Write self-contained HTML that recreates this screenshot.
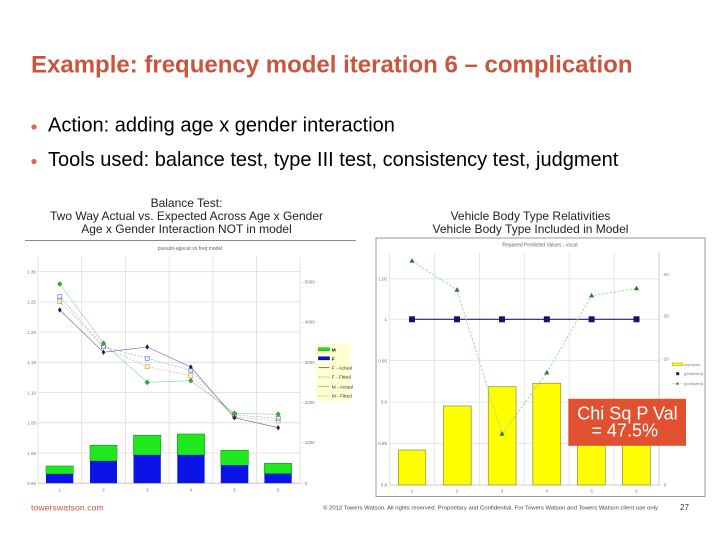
<!DOCTYPE html>
<html>
<head>
<meta charset="utf-8">
<style>
html,body{margin:0;padding:0;background:#fff;}
svg{display:block;}
text{font-family:"Liberation Sans",Arial,sans-serif;}
</style>
</head>
<body>
<svg width="720" height="540" viewBox="0 0 720 540" xmlns="http://www.w3.org/2000/svg">
<rect x="0" y="0" width="720" height="540" fill="#fff"/>

<!-- Title -->
<text x="31" y="72.5" font-size="24" font-weight="bold" fill="#C8553D">Example: frequency model iteration 6 – complication</text>

<!-- Bullets -->
<circle cx="34" cy="127" r="2.6" fill="#D9694A"/>
<text x="48" y="131.7" font-size="20" fill="#000">Action: adding age x gender interaction</text>
<circle cx="34" cy="161.5" r="2.6" fill="#D9694A"/>
<text x="48" y="166" font-size="20" fill="#000">Tools used: balance test, type III test, consistency test, judgment</text>

<!-- Subtitles -->
<g font-size="12" fill="#222" text-anchor="middle">
<text x="186.5" y="207">Balance Test:</text>
<text x="186.5" y="220">Two Way Actual vs. Expected Across Age x Gender</text>
<text x="186.5" y="233">Age x Gender Interaction NOT in model</text>
<text x="530.5" y="220">Vehicle Body Type Relativities</text>
<text x="530.5" y="233">Vehicle Body Type Included in Model</text>
</g>

<!-- ============ LEFT CHART ============ -->
<line x1="25" y1="240.5" x2="356" y2="240.5" stroke="#8a8a8a" stroke-width="1"/>
<text x="190" y="250" font-size="5" fill="#666" text-anchor="middle">pseudo-agecat  vs freq model</text>

<g stroke="#dcdcdc" stroke-width="0.8">
<line x1="38" y1="271.7" x2="300" y2="271.7"/>
<line x1="38" y1="301.9" x2="300" y2="301.9"/>
<line x1="38" y1="332.1" x2="300" y2="332.1"/>
<line x1="38" y1="362.3" x2="300" y2="362.3"/>
<line x1="38" y1="392.6" x2="300" y2="392.6"/>
<line x1="38" y1="422.8" x2="300" y2="422.8"/>
<line x1="38" y1="453.0" x2="300" y2="453.0"/>
<line x1="38" y1="257" x2="38" y2="483"/>
<line x1="81.7" y1="257" x2="81.7" y2="483"/>
<line x1="125.4" y1="257" x2="125.4" y2="483"/>
<line x1="169.1" y1="257" x2="169.1" y2="483"/>
<line x1="212.8" y1="257" x2="212.8" y2="483"/>
<line x1="256.5" y1="257" x2="256.5" y2="483"/>
<line x1="300" y1="257" x2="300" y2="483"/>
</g>
<line x1="38" y1="483.2" x2="300" y2="483.2" stroke="#bbb" stroke-width="0.8"/>

<g font-size="4.5" fill="#777" text-anchor="end">
<text x="36" y="273.5">1.30</text>
<text x="36" y="303.7">1.25</text>
<text x="36" y="333.9">1.20</text>
<text x="36" y="364.1">1.15</text>
<text x="36" y="394.4">1.10</text>
<text x="36" y="424.6">1.05</text>
<text x="36" y="454.8">1.00</text>
<text x="36" y="485">0.95</text>
</g>
<g font-size="4.5" fill="#777">
<text x="302" y="283.5">- 5000</text>
<text x="302" y="323.5">- 4000</text>
<text x="302" y="364">- 3000</text>
<text x="302" y="404">- 2000</text>
<text x="302" y="444">- 1000</text>
<text x="302" y="485">- 0</text>
</g>
<g font-size="4.5" fill="#777" text-anchor="middle">
<text x="59.8" y="491.5">1</text>
<text x="103.5" y="491.5">2</text>
<text x="147.2" y="491.5">3</text>
<text x="190.8" y="491.5">4</text>
<text x="234.5" y="491.5">5</text>
<text x="278.2" y="491.5">6</text>
</g>

<!-- stacked bars -->
<g>
<rect x="46" y="466" width="27.3" height="8" fill="#1FE81F" stroke="#119911" stroke-width="0.6"/>
<rect x="46" y="474" width="27.3" height="9.2" fill="#0A14E6"/>
<rect x="90" y="445.3" width="27" height="15.7" fill="#1FE81F" stroke="#119911" stroke-width="0.6"/>
<rect x="90" y="461" width="27" height="22.2" fill="#0A14E6"/>
<rect x="133.5" y="435.3" width="27.3" height="19.7" fill="#1FE81F" stroke="#119911" stroke-width="0.6"/>
<rect x="133.5" y="455" width="27.3" height="28.2" fill="#0A14E6"/>
<rect x="177.3" y="434" width="27.3" height="21" fill="#1FE81F" stroke="#119911" stroke-width="0.6"/>
<rect x="177.3" y="455" width="27.3" height="28.2" fill="#0A14E6"/>
<rect x="220.8" y="450.3" width="27.5" height="15" fill="#1FE81F" stroke="#119911" stroke-width="0.6"/>
<rect x="220.8" y="465.3" width="27.5" height="17.9" fill="#0A14E6"/>
<rect x="264.4" y="463.3" width="27.3" height="10.4" fill="#1FE81F" stroke="#119911" stroke-width="0.6"/>
<rect x="264.4" y="473.7" width="27.3" height="9.5" fill="#0A14E6"/>
</g>

<!-- lines -->
<polyline points="59.8,301.7 103.5,346.7 147.2,366.7 190.8,375.7 234.5,416.7 278.2,421" fill="none" stroke="#D6BC72" stroke-width="0.6" stroke-dasharray="2,1.5"/>
<polyline points="59.8,296.7 103.5,346.7 147.2,358.3 190.8,370.3 234.5,415 278.2,418.3" fill="none" stroke="#8FB0D0" stroke-width="0.6" stroke-dasharray="2,1.5"/>
<polyline points="59.8,284 103.5,343.3 147.2,382.3 190.8,380.7 234.5,413.3 278.2,414.3" fill="none" stroke="#86D886" stroke-width="0.6"/>
<polyline points="59.8,310 103.5,352.3 147.2,347 190.8,367 234.5,417.7 278.2,427.7" fill="none" stroke="#6262A8" stroke-width="0.6"/>

<!-- markers -->
<g fill="none" stroke="#C9A64A" stroke-width="0.7">
<rect x="57.8" y="299.7" width="4" height="4"/><rect x="101.5" y="344.7" width="4" height="4"/><rect x="145.2" y="364.7" width="4" height="4"/><rect x="188.8" y="373.7" width="4" height="4"/><rect x="232.5" y="414.7" width="4" height="4"/><rect x="276.2" y="419" width="4" height="4"/>
</g>
<g fill="none" stroke="#5B86B4" stroke-width="0.7">
<rect x="57.8" y="294.7" width="4" height="4"/><rect x="101.5" y="344.7" width="4" height="4"/><rect x="145.2" y="356.3" width="4" height="4"/><rect x="188.8" y="368.3" width="4" height="4"/><rect x="232.5" y="413" width="4" height="4"/><rect x="276.2" y="416.3" width="4" height="4"/>
</g>
<g fill="#3FAE3F" stroke="#1E5E1E" stroke-width="0.5">
<path d="M59.8,281.5 l2.2,2.5 l-2.2,2.5 l-2.2,-2.5z"/>
<path d="M103.5,340.8 l2.2,2.5 l-2.2,2.5 l-2.2,-2.5z"/>
<path d="M147.2,379.8 l2.2,2.5 l-2.2,2.5 l-2.2,-2.5z"/>
<path d="M190.8,378.2 l2.2,2.5 l-2.2,2.5 l-2.2,-2.5z"/>
<path d="M234.5,410.8 l2.2,2.5 l-2.2,2.5 l-2.2,-2.5z"/>
<path d="M278.2,411.8 l2.2,2.5 l-2.2,2.5 l-2.2,-2.5z"/>
</g>
<g fill="#1A1A5E">
<path d="M59.8,307.3 l1.8,2.7 l-1.8,2.7 l-1.8,-2.7z"/>
<path d="M103.5,349.6 l1.8,2.7 l-1.8,2.7 l-1.8,-2.7z"/>
<path d="M147.2,344.3 l1.8,2.7 l-1.8,2.7 l-1.8,-2.7z"/>
<path d="M190.8,364.3 l1.8,2.7 l-1.8,2.7 l-1.8,-2.7z"/>
<path d="M234.5,415 l1.8,2.7 l-1.8,2.7 l-1.8,-2.7z"/>
<path d="M278.2,425 l1.8,2.7 l-1.8,2.7 l-1.8,-2.7z"/>
</g>

<!-- legend -->
<rect x="316.5" y="344" width="34" height="57" fill="#FFFFD2"/>
<rect x="318.5" y="347.8" width="11" height="3" fill="#1FE81F" stroke="#119911" stroke-width="0.6"/>
<rect x="318.5" y="356.8" width="11" height="3" fill="#0A14E6" stroke="#00008A" stroke-width="0.6"/>
<line x1="318.5" y1="367.7" x2="329.5" y2="367.7" stroke="#3A3A90" stroke-width="0.7"/>
<line x1="318.5" y1="377" x2="329.5" y2="377" stroke="#6F97C0" stroke-width="0.7" stroke-dasharray="1.5,1"/>
<line x1="318.5" y1="386.7" x2="329.5" y2="386.7" stroke="#5DC85D" stroke-width="0.7"/>
<line x1="318.5" y1="396" x2="329.5" y2="396" stroke="#C9A64A" stroke-width="0.7" stroke-dasharray="1.5,1"/>
<g font-size="4.8" fill="#333">
<text x="331.7" y="351.3" font-weight="bold" fill="#111">M</text>
<text x="331.7" y="360.3" font-weight="bold" fill="#111">F</text>
<text x="331.7" y="369.4">F - Actual</text>
<text x="331.7" y="378.7">F - Fitted</text>
<text x="331.7" y="388.4">M - Actual</text>
<text x="331.7" y="397.7">M - Fitted</text>
</g>

<!-- ============ RIGHT CHART ============ -->
<rect x="376" y="238" width="329" height="258.5" fill="#fff" stroke="#9a9a9a" stroke-width="1"/>
<text x="540" y="246.5" font-size="5" fill="#666" text-anchor="middle">Repaired Predicted Values - vscat</text>

<g stroke="#e0e0e0" stroke-width="0.8">
<line x1="389.6" y1="278.8" x2="659" y2="278.8"/>
<line x1="389.6" y1="319.3" x2="659" y2="319.3"/>
<line x1="389.6" y1="360.5" x2="659" y2="360.5"/>
<line x1="389.6" y1="402" x2="659" y2="402"/>
<line x1="389.6" y1="443.3" x2="659" y2="443.3"/>
<line x1="389.6" y1="253" x2="389.6" y2="485"/>
<line x1="434.5" y1="253" x2="434.5" y2="485"/>
<line x1="479.4" y1="253" x2="479.4" y2="485"/>
<line x1="524.3" y1="253" x2="524.3" y2="485"/>
<line x1="569.2" y1="253" x2="569.2" y2="485"/>
<line x1="614.1" y1="253" x2="614.1" y2="485"/>
</g>
<line x1="659" y1="253" x2="659" y2="485" stroke="#bdbdbd" stroke-width="0.8"/>
<line x1="389.6" y1="485" x2="659" y2="485" stroke="#bdbdbd" stroke-width="0.8"/>

<g font-size="4.5" fill="#777" text-anchor="end">
<text x="387" y="280.5">1.05</text>
<text x="387" y="321">1</text>
<text x="387" y="362.3">0.95</text>
<text x="387" y="403.7">0.9</text>
<text x="387" y="445">0.85</text>
<text x="387" y="486.7">0.8</text>
</g>
<g font-size="4.5" fill="#777">
<text x="661" y="276">- 40</text>
<text x="661" y="317.7">- 30</text>
<text x="661" y="360.3">- 20</text>
<text x="661" y="401.7">- 10</text>
<text x="661" y="443.4">- 5</text>
<text x="661" y="486.7">- 0</text>
</g>
<g font-size="4.5" fill="#777" text-anchor="middle">
<text x="412" y="492.5">1</text>
<text x="457" y="492.5">2</text>
<text x="502" y="492.5">3</text>
<text x="546.8" y="492.5">4</text>
<text x="591.6" y="492.5">5</text>
<text x="636.5" y="492.5">6</text>
</g>

<!-- yellow bars -->
<g fill="#FFFF00" stroke="#9C9A3A" stroke-width="0.8">
<rect x="398.4" y="450" width="27.3" height="35"/>
<rect x="443.4" y="406" width="27.8" height="79"/>
<rect x="488.3" y="386.7" width="27.7" height="98.3"/>
<rect x="532.8" y="383.3" width="27.9" height="101.7"/>
<rect x="577.4" y="420" width="27.9" height="65"/>
<rect x="622.4" y="425" width="27.9" height="60"/>
</g>

<!-- navy line -->
<line x1="412" y1="319.3" x2="636.5" y2="319.3" stroke="#23237A" stroke-width="1.2"/>
<g fill="#14146A">
<rect x="409" y="316.3" width="6" height="6"/>
<rect x="454" y="316.3" width="6" height="6"/>
<rect x="499" y="316.3" width="6" height="6"/>
<rect x="543.8" y="316.3" width="6" height="6"/>
<rect x="588.6" y="316.3" width="6" height="6"/>
<rect x="633.5" y="316.3" width="6" height="6"/>
</g>

<!-- green dashed line -->
<polyline points="412,261 457,290 502,434 546.8,372.7 591.6,295.7 636.5,288.5" fill="none" stroke="#8FE08F" stroke-width="0.9" stroke-dasharray="2.5,1.5"/>
<g fill="#2E7A2E" stroke="#1B4F1B" stroke-width="0.3">
<path d="M412,258.5 l2.3,4 l-4.6,0z"/>
<path d="M457,287.5 l2.3,4 l-4.6,0z"/>
<path d="M502,431.5 l2.3,4 l-4.6,0z"/>
<path d="M546.8,370.2 l2.3,4 l-4.6,0z"/>
<path d="M591.6,293.2 l2.3,4 l-4.6,0z"/>
<path d="M636.5,286 l2.3,4 l-4.6,0z"/>
</g>

<!-- right legend -->
<rect x="672.3" y="363" width="10.4" height="2.8" fill="#FFFF00" stroke="#9C9A3A" stroke-width="0.5"/>
<rect x="676.2" y="372.2" width="3" height="3" fill="#14146A"/>
<line x1="672.3" y1="383.5" x2="682.7" y2="383.5" stroke="#8FE08F" stroke-width="0.7" stroke-dasharray="1.5,1"/>
<path d="M677.5,381.8 l1.6,2.8 l-3.2,0z" fill="#2E7A2E"/>
<g font-size="4" fill="#777">
<text x="684" y="365.8">exposure</text>
<text x="684" y="375">(predicted)</text>
<text x="684" y="385">(predicted)</text>
</g>

<!-- callout -->
<rect x="568.3" y="398.8" width="117.7" height="47" fill="#E1502F"/>
<text x="627.5" y="419.3" font-size="18" fill="#fff" text-anchor="middle">Chi Sq P Val</text>
<text x="624.7" y="436.7" font-size="18" fill="#fff" text-anchor="middle">= 47.5%</text>

<!-- footer -->
<text x="31" y="510.5" font-size="8.6" fill="#C8553D" letter-spacing="0.1">towerswatson.com</text>
<text x="323" y="509.5" font-size="5.4" fill="#444" textLength="335" lengthAdjust="spacingAndGlyphs">© 2012 Towers Watson. All rights reserved. Proprietary and Confidential. For Towers Watson and Towers Watson client use only</text>
<text x="680" y="510" font-size="8" fill="#333">27</text>
</svg>
</body>
</html>
